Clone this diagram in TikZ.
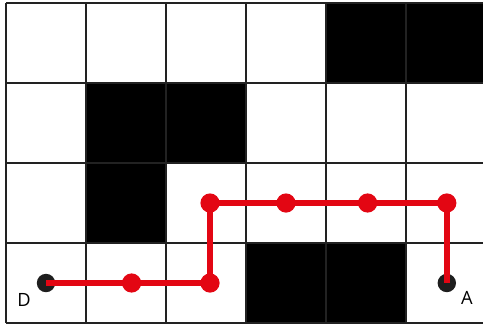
\documentclass[tikz,border=0pt]{standalone}
\usepackage{fontspec}
\setsansfont{Open Sans}
\usepackage{xcolor}
\usetikzlibrary{positioning,calc}
\definecolor{pathRed}{HTML}{E30613}
\definecolor{dotDark}{HTML}{1E1E1E}
\definecolor{gridLine}{HTML}{222222}

\begin{document}
\begin{tikzpicture}[
  x=2cm, y=2cm,
  wall/.style={fill=black},
  gridln/.style={draw=gridLine, line width=1.3pt},
  route/.style={draw=pathRed, line width=4.6pt},
  waypt/.style={circle, fill=pathRed, inner sep=0pt, minimum size=0.48cm},
  endpt/.style={circle, fill=dotDark, inner sep=0pt, minimum size=0.46cm},
  lbl/.style={font=\sffamily\fontsize{13}{15}\selectfont, inner sep=0pt},
]
  \useasboundingbox (-0.075,-0.0125) rectangle (5.9625,4.0375);
  \clip (-0.075,-0.0125) rectangle (5.9625,4.0375);
  % blocked cells
  \foreach \c/\r in {4/3, 5/3, 1/2, 2/2, 1/1, 3/0, 4/0}
    \fill[wall] (\c,\r) rectangle ++(1,1);
  \draw[gridln, step=2cm] (0,0) grid (6,4);

  % start and goal
  \node[endpt] (d) at (0.5,0.5) {};
  \node[endpt] (a) at (5.51,0.5) {};
  \node[lbl] (dlabel) at (0.225,0.29) {D};
  \node[lbl] (alabel) at (5.76,0.31) {A};

  % path through the free cells
  \coordinate (p1) at (1.57,0.5);
  \coordinate (p2) at (2.55,0.5);
  \coordinate (p3) at (2.55,1.5);
  \coordinate (p4) at (3.5,1.5);
  \coordinate (p5) at (4.52,1.5);
  \coordinate (p6) at (5.51,1.5);
  \draw[route] (d.center) -- (p1) -- (p2) -- (p3) -- (p4) -- (p5) -- (p6) -- (a.center);
  \foreach \p in {p1,p2,p3,p4,p5,p6}
    \node[waypt] at (\p) {};
\end{tikzpicture}
\end{document}
